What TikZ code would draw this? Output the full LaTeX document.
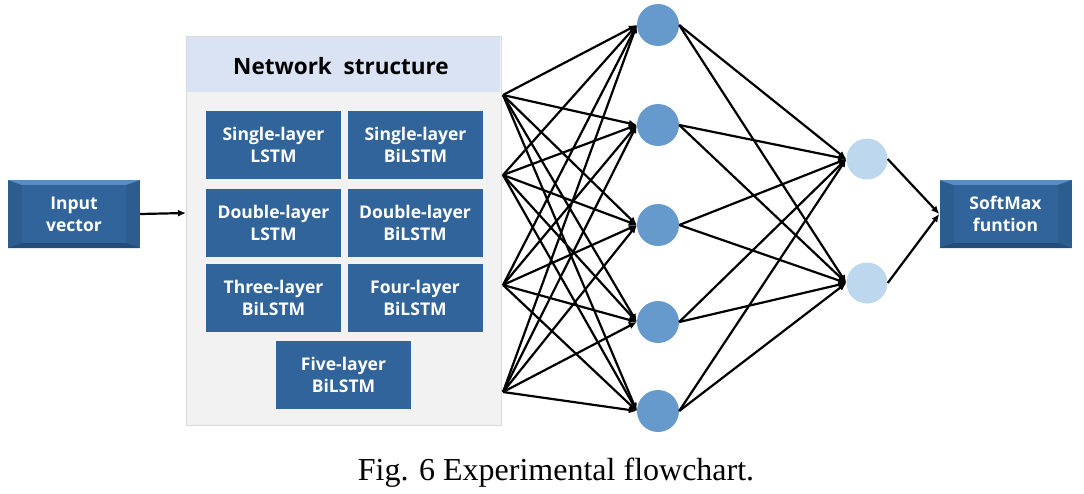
\documentclass[tikz,border=0pt]{standalone}
\usepackage{fontspec}
\setmainfont{Liberation Serif}
\setsansfont{Open Sans}
\usetikzlibrary{arrows.meta}
\definecolor{boxblue}{HTML}{31649A}
\definecolor{bevblue}{HTML}{2D5D8E}
\definecolor{bevlight}{HTML}{5A8CC0}
\definecolor{bevdark}{HTML}{234C76}
\definecolor{hidblue}{HTML}{6699CC}
\definecolor{outblue}{HTML}{BDD7EE}
\definecolor{headblue}{HTML}{DAE3F3}
\definecolor{panelgray}{HTML}{F2F2F2}
\tikzset{
  layerbox/.style={fill=boxblue, text=white, font=\sffamily\bfseries\fontsize{17.5}{22}\selectfont,
    align=center, minimum width=135pt, minimum height=68pt, inner sep=0pt},
  bevelbox/.style={layerbox, fill=bevblue, minimum width=132pt,
    path picture={
      \fill[bevlight] (path picture bounding box.north west) -- (path picture bounding box.north east)
        -- ([xshift=-14pt,yshift=-5pt]path picture bounding box.north east)
        -- ([xshift=14pt,yshift=-5pt]path picture bounding box.north west) -- cycle;
      \fill[bevdark] (path picture bounding box.south west) -- (path picture bounding box.south east)
        -- ([xshift=-14pt,yshift=5pt]path picture bounding box.south east)
        -- ([xshift=14pt,yshift=5pt]path picture bounding box.south west) -- cycle;
      \fill[boxblue] ([xshift=14pt,yshift=-5pt]path picture bounding box.north west)
        rectangle ([xshift=-14pt,yshift=5pt]path picture bounding box.south east);
    }},
  hidden/.style={circle, fill=hidblue, minimum size=42pt, inner sep=0pt},
  output/.style={circle, fill=outblue, minimum size=41pt, inner sep=0pt},
  link/.style={-{Latex[length=8pt,width=7pt]}, line width=2.2pt}
}
\begin{document}
\begin{tikzpicture}[x=1pt,y=-1pt]
  \useasboundingbox (0,0) rectangle (1084,493);
  % network structure panel
  \draw[fill=panelgray, draw=black!15, line width=1pt] (186,36) rectangle (501,425);
  \fill[headblue] (187,37) rectangle (500,92);
  \node[font=\sffamily\bfseries\fontsize{22.5}{26}\selectfont] (net) at (341,66) {Network\ \ structure};
  \coordinate (netwest) at (186,213);
  \draw
    (273.5,145) node[layerbox] (sl){Single-layer\\LSTM}
    (415.5,145) node[layerbox] (sb){Single-layer\\BiLSTM}
    (273.5,222.5) node[layerbox] (dl){Double-layer\\LSTM}
    (415,222.5) node[layerbox] (db){Double-layer\\BiLSTM}
    (273.5,297.5) node[layerbox] (tb){Three-layer\\BiLSTM}
    (415,297.5) node[layerbox] (fb){Four-layer\\BiLSTM}
    (343.5,375) node[layerbox] (vb){Five-layer\\BiLSTM};
  % input and output
  \draw
    (74,214) node[bevelbox] (input){Input\\vector}
    (1005.5,214) node[bevelbox] (soft){SoftMax\\funtion};
  % neurons
  \draw
    (658,25) node[hidden] (h1){}
    (658,125) node[hidden] (h2){}
    (658,225) node[hidden] (h3){}
    (658,322) node[hidden] (h4){}
    (658,411) node[hidden] (h5){}
    (867,159) node[output] (o1){}
    (867,283) node[output] (o2){};
  \coordinate (f1) at (503,95);
  \coordinate (f2) at (503,175);
  \coordinate (f3) at (503,285);
  \coordinate (f4) at (503,392);
  \begin{scope}[link]
    \draw (input.east) -- (netwest);
    \draw (f1) to (h1.west);
    \draw (f1) to (h2.west);
    \draw (f1) to (h3.west);
    \draw (f1) to (h4.west);
    \draw (f1) to (h5.west);
    \draw (f2) to (h1.west);
    \draw (f2) to (h2.west);
    \draw (f2) to (h3.west);
    \draw (f2) to (h4.west);
    \draw (f2) to (h5.west);
    \draw (f3) to (h1.west);
    \draw (f3) to (h2.west);
    \draw (f3) to (h3.west);
    \draw (f3) to (h4.west);
    \draw (f3) to (h5.west);
    \draw (f4) to (h1.west);
    \draw (f4) to (h2.west);
    \draw (f4) to (h3.west);
    \draw (f4) to (h4.west);
    \draw (f4) to (h5.west);
    \draw (h1.east) to (o1.west);
    \draw (h1.east) to (o2.west);
    \draw (h2.east) to (o1.west);
    \draw (h2.east) to (o2.west);
    \draw (h3.east) to (o1.west);
    \draw (h3.east) to (o2.west);
    \draw (h4.east) to (o1.west);
    \draw (h4.east) to (o2.west);
    \draw (h5.east) to (o1.west);
    \draw (h5.east) to (o2.west);
    \draw (o1.east) to (soft.west);
    \draw (o2.east) to (soft.west);
  \end{scope}
  % caption
  \node[font=\fontsize{32}{36}\selectfont] (cap) at (556,473) {Fig. 6 Experimental flowchart.};
\end{tikzpicture}
\end{document}
